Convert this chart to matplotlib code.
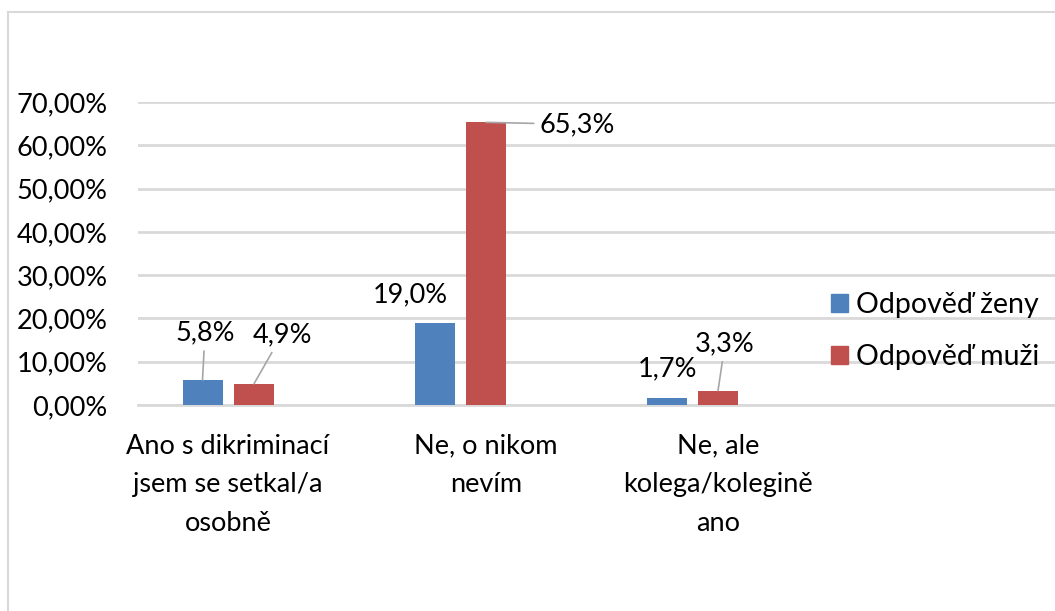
import numpy as np
import matplotlib.pyplot as plt
from matplotlib.ticker import FuncFormatter
from matplotlib.patches import Patch
from matplotlib.lines import Line2D

plt.rcParams['font.family'] = ['Lato', 'DejaVu Sans']

# --- data ------------------------------------------------------------
categories = ["Ano s dikriminací\njsem se setkal/a\nosobně",
              "Ne, o nikom\nnevím",
              "Ne, ale\nkolega/kolegině\nano"]
zeny = [5.8, 19.0, 1.7]
muzi = [4.9, 65.3, 3.3]
series_names = ["Odpověď ženy", "Odpověď muži"]
y_ticks = [0, 10, 20, 30, 40, 50, 60, 70]

BLUE = "#4F81BD"
RED = "#C0504D"
GRID = "#D9D9D9"
FS = 19.5

fig = plt.figure(figsize=(10.55, 6.11), dpi=100)

# chart border (Excel-style frame, right/bottom cut off)
fig.add_artist(Line2D([8 / 1055, 8 / 1055], [0, 1 - 12 / 611],
                      transform=fig.transFigure, color=GRID, lw=1.5))
fig.add_artist(Line2D([8 / 1055, 1], [1 - 12 / 611, 1 - 12 / 611],
                      transform=fig.transFigure, color=GRID, lw=1.5))

# plot area spans 4 category slots, last one runs off the right edge
ax = fig.add_axes([138 / 1055, 206 / 611, 928 / 1055, 303 / 611])
ax.set_xlim(-0.5, 3.5)
ax.set_ylim(0, 70)

x = np.arange(len(categories))
w = 40 / 232
off = 51.5 / 232
bars_z = ax.bar(x - off, zeny, width=w, color=BLUE, zorder=3)
bars_m = ax.bar(x, muzi, width=w, color=RED, zorder=3)

ax.set_yticks(y_ticks)
ax.yaxis.set_major_formatter(FuncFormatter(lambda v, p: f"{v:.2f}%".replace(".", ",")))
ax.grid(axis="y", color=GRID, lw=2, zorder=0)
ax.set_xticks([])
for s in ax.spines.values():
    s.set_visible(False)
ax.spines["bottom"].set_visible(True)
ax.spines["bottom"].set_color(GRID)
ax.spines["bottom"].set_linewidth(2)
ax.tick_params(axis="y", length=0, labelsize=FS, pad=22)

# category labels
label_x = [-26 / 232, 1, 2]
for lx, cat in zip(label_x, categories):
    ax.text(lx, -0.095, cat, transform=ax.get_xaxis_transform(), ha="center", va="top",
            fontsize=FS, linespacing=1.68)

# data labels: (dx, dy) pixel offsets of the text centre, leader line yes/no
z_lbl = [(2.5, 47, True), (-24, 28, False), (1, 29, False)]
m_lbl = [(28, 49, True), (91, -2, True), (7, 47, True)]
for bars, vals, lbls in [(bars_z, zeny, z_lbl), (bars_m, muzi, m_lbl)]:
    for b, v, (dx, dy, lead) in zip(bars, vals, lbls):
        ap = dict(arrowstyle="-", color="#A6A6A6", lw=1.2, shrinkA=2, shrinkB=0) if lead else None
        ax.annotate(f"{v:.1f}%".replace(".", ","),
                    xy=(b.get_x() + b.get_width() / 2, v),
                    xytext=(dx, dy), textcoords="offset pixels",
                    ha="center", va="center", fontsize=FS,
                    arrowprops=ap, zorder=4)

handles = [Patch(color=BLUE), Patch(color=RED)]
fig.legend(handles, series_names, loc="center left",
           bbox_to_anchor=(805 / 1055, 1 - 331 / 611), frameon=False,
           fontsize=FS + 1, handlelength=0.6, handleheight=0.6,
           handletextpad=0.3, labelspacing=0.9)

fig.savefig("out.png", dpi=100)
